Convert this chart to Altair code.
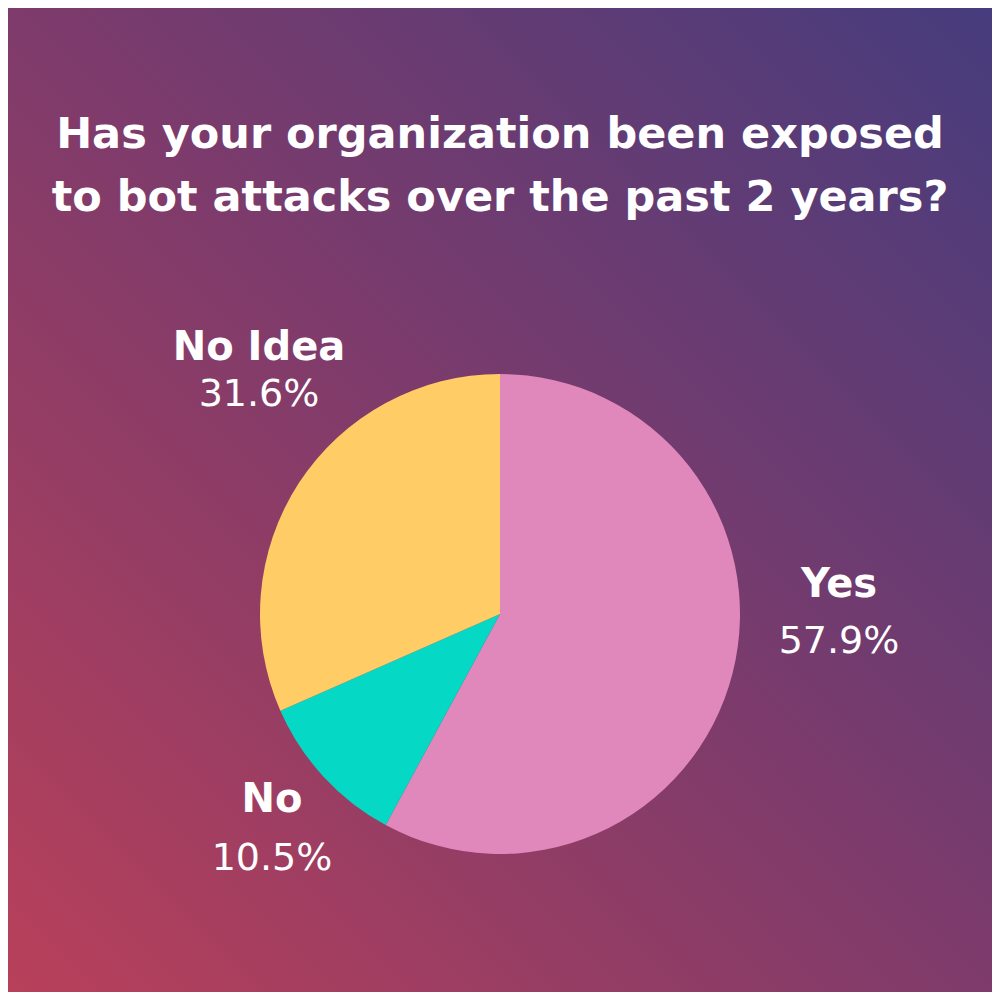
import altair as alt
import pandas as pd

# ---- data ----
categories = ["Yes", "No", "No Idea"]
shares = [57.9, 10.5, 31.6]
slice_colors = ["#e087bc", "#05d9c6", "#ffcc66"]
title_lines = ["Has your organization been exposed", "to bot attacks over the past 2 years?"]

df = pd.DataFrame({"category": categories, "share": shares, "order": list(range(len(categories)))})
df["pct"] = df["share"].map(lambda v: f"{v:.1f}%")

# ---- layout (chart pixel coordinates; page = chart + 8) ----
W = H = 984
CX, CY, R = 492, 606, 240
label_layout = {
    "Yes": (831, 589, 645),
    "No Idea": (251, 352, 398),
    "No": (264, 804, 862),
}
FONT = "DejaVu Sans"

bg = alt.Chart(alt.Data(values=[{"k": 1}])).mark_rect(
    fill=alt.LinearGradient(
        gradient="linear", x1=0, y1=1, x2=1, y2=0,
        stops=[
            alt.GradientStop(offset=0, color="#b8405a"),
            alt.GradientStop(offset=0.5, color="#7e3b6b"),
            alt.GradientStop(offset=1, color="#463c7d"),
        ],
    ),
    stroke=None,
).encode(x=alt.value(0), x2=alt.value(W), y=alt.value(0), y2=alt.value(H))

pie = alt.Chart(df).mark_arc(outerRadius=R).encode(
    theta=alt.Theta("share:Q", stack=True),
    order=alt.Order("order:Q"),
    color=alt.Color("category:N", scale=alt.Scale(domain=categories, range=slice_colors), legend=None),
    x=alt.value(CX),
    y=alt.value(CY),
)

title = alt.Chart(alt.Data(values=[{"k": 1}])).mark_text(
    text=title_lines, font=FONT, fontSize=43, fontWeight="bold", color="white",
    align="center", baseline="alphabetic", lineHeight=63,
).encode(x=alt.value(492), y=alt.value(140))

layers = [bg, pie, title]
for cat, (lx, ly1, ly2) in label_layout.items():
    base = alt.Chart(df).transform_filter(alt.datum.category == cat)
    layers.append(base.mark_text(font=FONT, fontSize=40, fontWeight="bold", color="white",
                                 align="center", baseline="alphabetic")
                  .encode(text="category:N", x=alt.value(lx), y=alt.value(ly1)))
    layers.append(base.mark_text(font=FONT, fontSize=38, fontWeight="normal", color="white",
                                 align="center", baseline="alphabetic")
                  .encode(text="pct:N", x=alt.value(lx), y=alt.value(ly2)))

chart = alt.layer(*layers).properties(
    width=W, height=H, padding=0, autosize=alt.AutoSizeParams(type="none"),
).configure_view(stroke=None).configure(background="#7e3b6b")

chart.save("out.html", embed_options={"renderer": "svg", "actions": False})
